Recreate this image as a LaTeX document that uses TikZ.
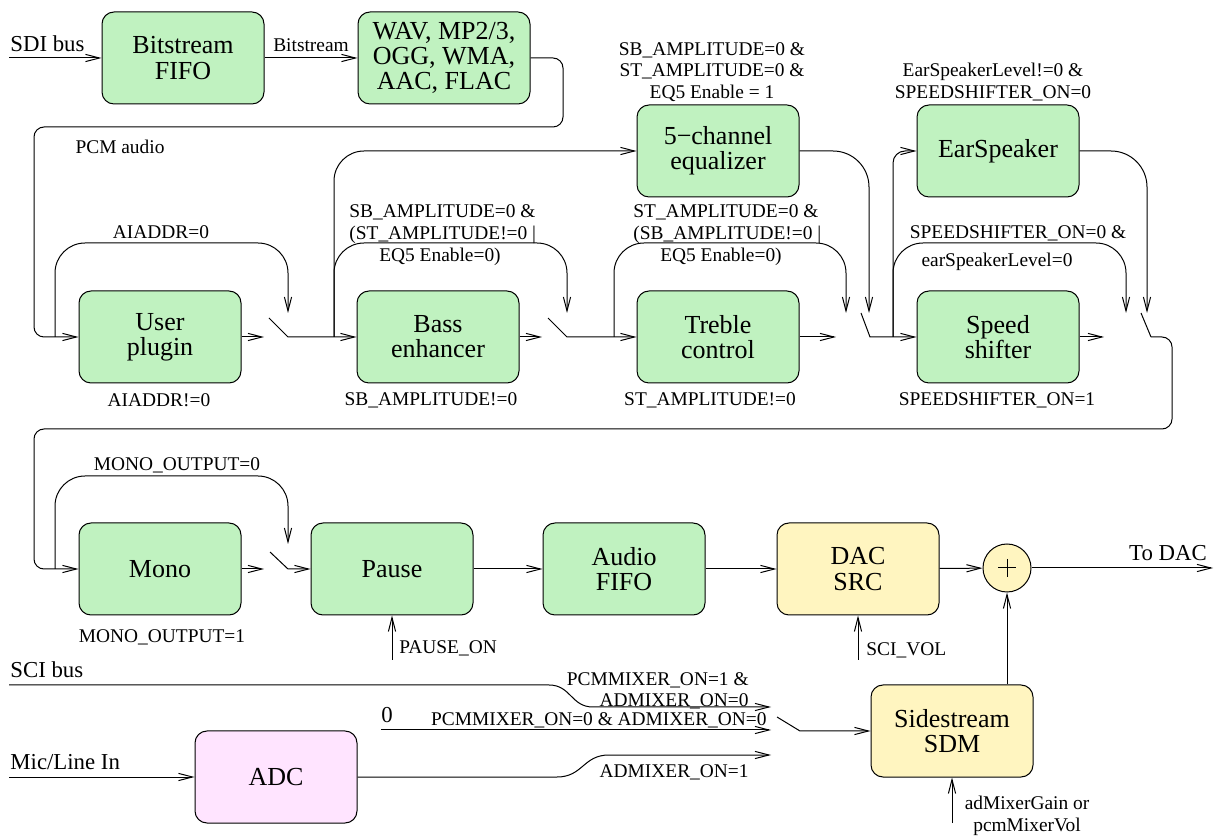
\documentclass[tikz,border=0pt]{standalone}
\usepackage{fontspec}
\setmainfont{Liberation Serif}
\usetikzlibrary{arrows.meta}

\definecolor{blkgreen}{RGB}{192,242,192}
\definecolor{blkyellow}{RGB}{255,245,192}
\definecolor{blkpink}{RGB}{255,228,255}

\newcommand{\blkfont}{\fontsize{13}{12.6}\selectfont}
\newcommand{\lblfont}{\fontsize{9.7}{10.8}\selectfont}
\newcommand{\iofont}{\fontsize{11.4}{12}\selectfont}

\tikzset{
  blk/.style={draw, line width=0.5pt, rounded corners=6pt, fill=blkgreen,
    minimum width=81pt, minimum height=46pt, inner sep=2pt, align=center, font=\blkfont},
  lbl/.style={font=\lblfont, inner sep=1pt},
  iolbl/.style={font=\iofont, inner sep=1pt},
  wire/.style={line width=0.5pt},
  sig/.style={wire, -{Straight Barb[length=7pt,width=3.6pt]}},
}

\begin{document}
\begin{tikzpicture}[x=0.5pt, y=-0.5pt]
  \useasboundingbox (0,0) rectangle (1215,838);

  % Bitstream input and decoder
  \node[iolbl, anchor=west] (sdi) at (8,44) {SDI bus};
  \coordinate (sdiin) at (9,58);
  \node[blk] (fifo) at (183,58) {Bitstream\\FIFO};
  \node[blk, minimum width=86pt] (codec) at (444,58) {WAV, MP2/3,\\OGG, WMA,\\AAC, FLAC};

  % Processing blocks
  \node[blk] (user) at (160,337) {User\\plugin};
  \node[blk] (bass) at (438,337) {Bass\\enhancer};
  \node[blk] (treble) at (718,337) {Treble\\control};
  \node[blk] (speed) at (998,337) {Speed\\shifter};
  \node[blk] (eq) at (718,151) {5−channel\\equalizer};
  \node[blk] (ear) at (998,151) {EarSpeaker};

  % Output blocks
  \node[blk] (mono) at (160,569) {Mono};
  \node[blk] (pause) at (392,569) {Pause};
  \node[blk] (afifo) at (624,569) {Audio\\FIFO};
  \node[blk, fill=blkyellow] (dac) at (858,569) {DAC\\SRC};
  \node[draw, circle, line width=0.5pt, fill=blkyellow, minimum size=24pt, inner sep=0pt] (sum) at (1007,568) {};
  \draw[wire] (sum.center) ++(-9,0) -- ++(18,0) (sum.center) ++(0,-9) -- ++(0,18);
  \node[iolbl] (todac) at (1168,553) {To DAC};
  \coordinate (dacout) at (1213,568);

  % Sidestream blocks
  \node[iolbl, anchor=west] (sci) at (8,670) {SCI bus};
  \node[iolbl, anchor=west] (mic) at (8,762) {Mic/Line In};
  \node[iolbl] (zero) at (387,715) {0};
  \node[blk, fill=blkpink] (adc) at (276,777) {ADC};
  \node[blk, fill=blkyellow] (sdm) at (952,731) {Sidestream\\SDM};

  % Decoder path
  \draw[sig] (sdiin) -- (fifo);
  \draw[sig] (fifo) -- node[lbl, above=2pt] {Bitstream} (codec);
  \coordinate (pcmtop) at (563,127);
  \coordinate (pcmleft) at (34,337);
  \draw[sig, rounded corners=5pt] (codec.east) -| (pcmtop) -| (pcmleft) -- (user);
  \node[lbl] (pcm) at (120,147) {PCM audio};

  % Switch after user plugin
  \coordinate (sw1in) at (264,337);
  \coordinate (sw1t) at (269,318);
  \coordinate (sw1) at (288,337);
  \coordinate (bp1s) at (55,337);
  \coordinate (bp1top) at (288,243);
  \coordinate (bp1e) at (288,313);
  \draw[sig] (user) -- (sw1in);
  \draw[sig] (sw1t) -- (sw1) -- (bass);
  \draw[sig, rounded corners=15pt] (bp1s) |- (bp1top) -- (bp1e);
  \node[lbl] at (161,232) {AIADDR=0};
  \node[lbl] at (159,400) {AIADDR!=0};

  % Switch after bass enhancer
  \coordinate (sw2in) at (542,337);
  \coordinate (sw2t) at (548,318);
  \coordinate (sw2) at (567,337);
  \coordinate (bp2s) at (334,337);
  \coordinate (bp2top) at (567,243);
  \coordinate (bp2e) at (567,313);
  \draw[sig] (bass) -- (sw2in);
  \draw[sig] (sw2t) -- (sw2) -- (treble);
  \draw[sig, rounded corners=15pt] (bp2s) |- (bp2top) -- (bp2e);
  \draw[sig, rounded corners=15pt] (bp2s) |- (eq);
  \node[lbl, anchor=west, align=left] at (347,224) {SB\_AMPLITUDE=0 \&\\(ST\_AMPLITUDE!=0 |};
  \node[lbl] at (440,257) {EQ5 Enable=0)};
  \node[lbl] at (431,400) {SB\_AMPLITUDE!=0};

  % Switch after treble control
  \coordinate (sw3in) at (836,337);
  \coordinate (sw3t) at (861,313);
  \coordinate (sw3) at (870,337);
  \coordinate (bp3s) at (614,337);
  \coordinate (bp3top) at (846,243);
  \coordinate (bp3e) at (846,313);
  \coordinate (eqe) at (869,313);
  \draw[sig] (treble) -- (sw3in);
  \draw[sig] (sw3t) -- (sw3) -- (speed);
  \draw[sig, rounded corners=15pt] (bp3s) |- (bp3top) -- (bp3e);
  \draw[sig, rounded corners=18pt] (eq) -| (eqe);
  \node[lbl, anchor=west, align=left] at (631,224) {ST\_AMPLITUDE=0 \&\\(SB\_AMPLITUDE!=0 |};
  \node[lbl] at (721,257) {EQ5 Enable=0)};
  \node[lbl] at (710,400) {ST\_AMPLITUDE!=0};
  \node[lbl, align=center] at (712,72) {SB\_AMPLITUDE=0 \&\\ST\_AMPLITUDE=0 \&\\EQ5 Enable = 1};

  % Switch after speed shifter
  \coordinate (sw4in) at (1104,337);
  \coordinate (sw4t) at (1141,313);
  \coordinate (sw4) at (1151,337);
  \coordinate (bp4s) at (893,337);
  \coordinate (bp4top) at (1126,243);
  \coordinate (bp4e) at (1126,313);
  \coordinate (eare) at (1147,313);
  \draw[sig] (speed) -- (sw4in);
  \draw[wire] (sw4t) -- (sw4);
  \draw[sig, rounded corners=15pt] (bp4s) |- (bp4top) -- (bp4e);
  \draw[sig, rounded corners=6pt] (bp4s) |- (ear);
  \draw[sig, rounded corners=18pt] (ear) -| (eare);
  \node[lbl] at (1018,233) {SPEEDSHIFTER\_ON=0 \&};
  \node[lbl] at (997,262) {earSpeakerLevel=0};
  \node[lbl] at (997,400) {SPEEDSHIFTER\_ON=1};
  \node[lbl, align=center] at (993,82) {EarSpeakerLevel!=0 \&\\SPEEDSHIFTER\_ON=0};

  % Back to the output chain
  \coordinate (retr) at (1172,429);
  \coordinate (retl) at (34,569);
  \draw[sig, rounded corners=5pt] (sw4) -| (retr) -| (retl) -- (mono);

  % Switch after mono
  \coordinate (sw5in) at (264,569);
  \coordinate (sw5t) at (270,552);
  \coordinate (sw5) at (288,569);
  \coordinate (bp5s) at (55,569);
  \coordinate (bp5top) at (288,476);
  \coordinate (bp5e) at (288,544);
  \draw[sig] (mono) -- (sw5in);
  \draw[sig] (sw5t) -- (sw5) -- (pause);
  \draw[sig, rounded corners=15pt] (bp5s) |- (bp5top) -- (bp5e);
  \node[lbl] at (177,465) {MONO\_OUTPUT=0};
  \node[lbl] at (162,637) {MONO\_OUTPUT=1};

  % Output chain
  \coordinate (pausein) at (392,660);
  \coordinate (volin) at (858,660);
  \draw[sig] (pause) -- (afifo);
  \draw[sig] (afifo) -- (dac);
  \draw[sig] (dac) -- (sum);
  \draw[sig] (sum) -- (dacout);
  \draw[sig] (pausein) -- (pause);
  \draw[sig] (volin) -- (dac);
  \node[lbl, anchor=west] at (397,648) {PAUSE\_ON};
  \node[lbl, anchor=west] at (864,650) {SCI\_VOL};

  % Sidestream mixer inputs
  \coordinate (sciin) at (9,685);
  \coordinate (scie) at (771,707);
  \coordinate (zeroin) at (381,730);
  \coordinate (zeroe) at (771,730);
  \coordinate (micin) at (9,777);
  \coordinate (adce) at (771,755);
  \draw[sig] (sciin) -- (549,685) .. controls (571,685) and (571,707) .. (593,707) -- (scie);
  \draw[sig] (zeroin) -- (zeroe);
  \draw[sig] (micin) -- (adc);
  \draw[sig] (adc) -- (557,777) .. controls (583,777) and (583,755) .. (609,755) -- (adce);
  \node[lbl, anchor=east, align=right] at (751,691) {PCMMIXER\_ON=1 \&\\ADMIXER\_ON=0};
  \node[lbl, anchor=east] at (769,720) {PCMMIXER\_ON=0 \& ADMIXER\_ON=0};
  \node[lbl, anchor=east] at (751,772) {ADMIXER\_ON=1};

  % Sidestream switch and mixer
  \coordinate (sw6t) at (777,717);
  \coordinate (sw6) at (800,731);
  \coordinate (gainin) at (952,823);
  \draw[sig] (sw6t) -- (sw6) -- (sdm);
  \draw[sig] (sum |- sdm.north) -- (sum);
  \draw[sig] (gainin) -- (sdm);
  \node[lbl, align=center] at (1027,816) {adMixerGain or\\pcmMixerVol};

\end{tikzpicture}
\end{document}
